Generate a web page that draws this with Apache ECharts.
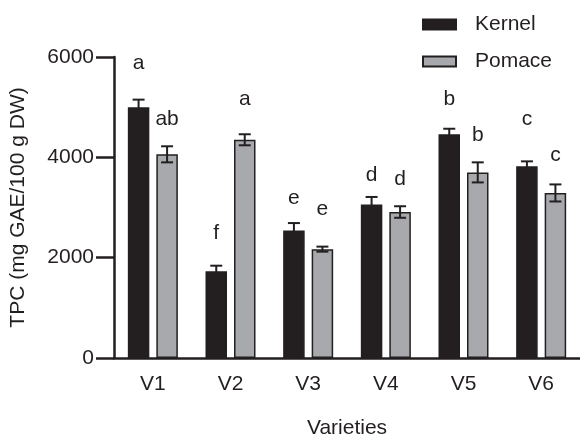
<!DOCTYPE html>
<html>
<head>
<meta charset="utf-8">
<script src="https://cdn.jsdelivr.net/npm/echarts@6/dist/echarts.min.js"></script>
<style>
html, body { margin: 0; padding: 0; background: #fff; }
#chart { width: 580px; height: 444px; }
</style>
</head>
<body>
<div id="chart"></div>
<script>
// data
const varieties = ['V1', 'V2', 'V3', 'V4', 'V5', 'V6']
const kernel = [5000, 1730, 2540, 3060, 4460, 3820]
const kernelErr = [150, 110, 150, 150, 110, 100]
const pomace = [4060, 4350, 2170, 2910, 3700, 3290]
const pomaceErr = [160, 110, 50, 115, 200, 170]
// significance letters and the height (in TPC units) they sit at
const kernelLetters = ['a', 'f', 'e', 'd', 'b', 'c']
const kernelLetterY = [5880, 2480, 3180, 3640, 5160, 4770]
const pomaceLetters = ['ab', 'a', 'e', 'd', 'b', 'c']
const pomaceLetterY = [4770, 5160, 2960, 3570, 4440, 4050]
const yTicks = [0, 2000, 4000, 6000]

const INK = '#231f20'
const GREY = '#a7a9ac'
const FONT = 'Liberation Sans, Arial, sans-serif'
const FS = 21
const BAR_W = 21.5
const BAR_GAP = 7
const OFF = (BAR_W + BAR_GAP) / 2

const myChart = echarts.init(document.getElementById('chart'))

// error bar drawn around a bar centre shifted by dx
const errRender = (vals, errs, dx) => (params, api) => {
	const i = api.value(0)
	const c = api.coord([i, vals[i]])
	const hi = api.coord([i, vals[i] + errs[i]])
	const lo = api.coord([i, vals[i] - errs[i]])
	const x = c[0] + dx
	const cap = 6
	const style = { stroke: INK, lineWidth: 2 }
	return {
		type: 'group',
		children: [
			{ type: 'line', shape: { x1: x, y1: hi[1], x2: x, y2: lo[1] }, style },
			{ type: 'line', shape: { x1: x - cap, y1: hi[1], x2: x + cap, y2: hi[1] }, style },
			{ type: 'line', shape: { x1: x - cap, y1: lo[1], x2: x + cap, y2: lo[1] }, style },
		],
	}
}

const letterRender = (letters, ys, dx) => (params, api) => {
	const i = api.value(0)
	const p = api.coord([i, ys[i]])
	return {
		type: 'text',
		x: p[0] + dx,
		y: p[1],
		style: {
			text: letters[i],
			fill: INK,
			font: FS + 'px ' + FONT,
			align: 'center',
			verticalAlign: 'middle',
		},
	}
}

const idx = varieties.map((v, i) => [i])

const option = {
	backgroundColor: '#fff',
	animation: false,
	textStyle: { fontFamily: FONT, color: INK },
	legend: {
		orient: 'vertical',
		left: 422,
		top: 14,
		padding: 0,
		itemWidth: 33,
		itemHeight: 10,
		itemGap: 16,
		icon: 'rect',
		textStyle: { fontSize: FS, color: INK, fontFamily: FONT, padding: [0, 0, 0, 14] },
		data: ['Kernel', 'Pomace'],
	},
	grid: { left: 111, right: 0, top: 57, bottom: 78 },
	xAxis: {
		type: 'category',
		data: varieties,
		name: 'Varieties',
		nameLocation: 'middle',
		nameGap: 60,
		nameTextStyle: { fontSize: FS, color: INK },
		axisLine: { lineStyle: { color: INK, width: 2.5 } },
		axisTick: { alignWithLabel: true, length: 12, lineStyle: { color: INK, width: 2.5 } },
		axisLabel: { fontSize: FS, color: INK, margin: 16 },
	},
	yAxis: {
		type: 'value',
		min: 0,
		max: 6000,
		interval: 2000,
		name: 'TPC (mg GAE/100 g DW)',
		nameLocation: 'middle',
		nameGap: 79,
		nameTextStyle: { fontSize: FS, color: INK, padding: [0, 0, 6, 0] },
		splitLine: { show: false },
		axisLine: { show: true, lineStyle: { color: INK, width: 2.5 } },
		axisTick: { show: true, length: 18, lineStyle: { color: INK, width: 2.5 } },
		axisLabel: {
			fontSize: FS,
			color: INK,
			margin: 20,
			formatter: (v) => (yTicks.includes(v) ? String(v) : ''),
		},
	},
	series: [
		{
			name: 'Kernel',
			type: 'bar',
			data: kernel,
			barWidth: BAR_W,
			barGap: (BAR_GAP / BAR_W) * 100 + '%',
			itemStyle: { color: INK, borderColor: INK, borderWidth: 1.5 },
		},
		{
			name: 'Pomace',
			type: 'bar',
			data: pomace,
			barWidth: BAR_W,
			itemStyle: { color: GREY, borderColor: INK, borderWidth: 1.5 },
		},
		{ type: 'custom', data: idx, z: 5, renderItem: errRender(kernel, kernelErr, -OFF) },
		{ type: 'custom', data: idx, z: 5, renderItem: errRender(pomace, pomaceErr, OFF) },
		{ type: 'custom', data: idx, z: 5, renderItem: letterRender(kernelLetters, kernelLetterY, -OFF) },
		{ type: 'custom', data: idx, z: 5, renderItem: letterRender(pomaceLetters, pomaceLetterY, OFF) },
	],
}
option && myChart.setOption(option)
</script>
</body>
</html>
